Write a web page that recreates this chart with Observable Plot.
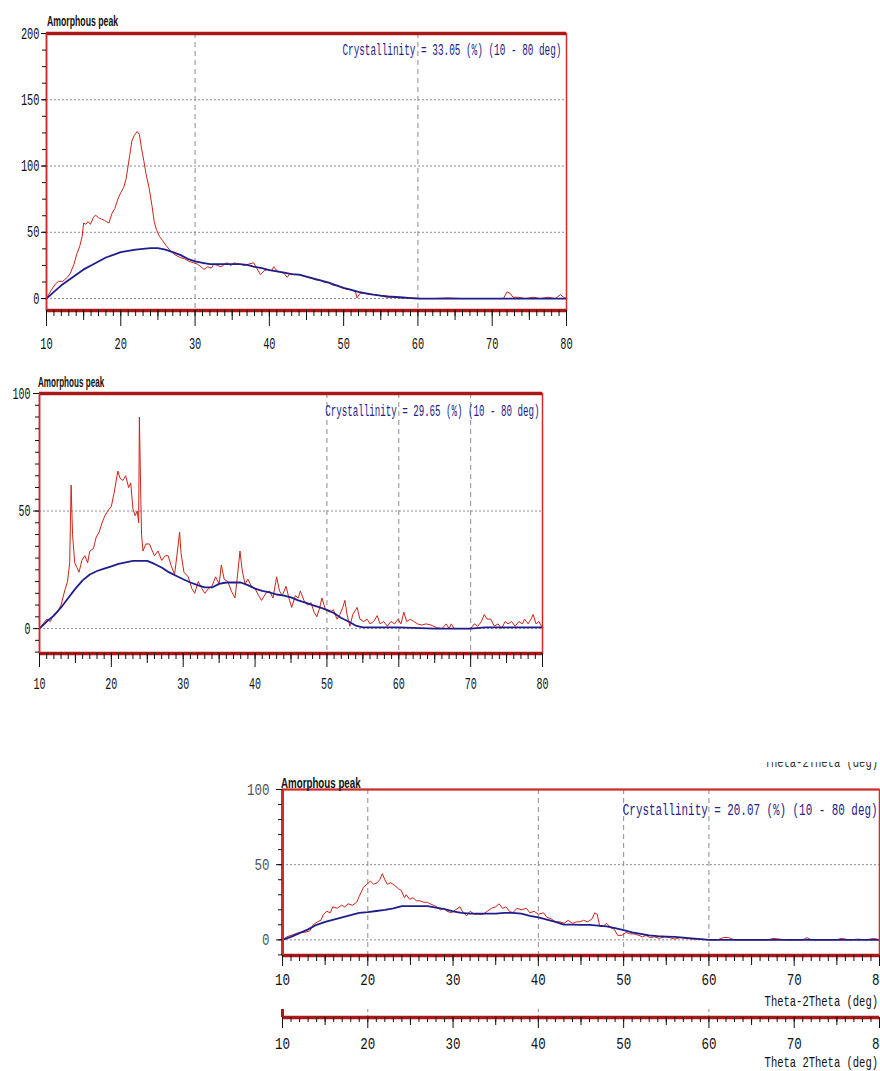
<!DOCTYPE html>
<html><head><meta charset="utf-8">
<script src="https://cdn.jsdelivr.net/npm/d3@7"></script>
<script src="https://cdn.jsdelivr.net/npm/@observablehq/plot@0.6"></script>
<style>
body{margin:0;background:#fff;}
#page{position:relative;width:880px;height:1071px;overflow:hidden;background:#fff;}
.lbl{position:absolute;white-space:nowrap;line-height:1;}
</style></head><body><div id="page"></div>
<script>
// ---------- data ----------
const xTickValues = [10, 20, 30, 40, 50, 60, 70, 80];
const xMidTicks = [15, 25, 35, 45, 55, 65, 75];
const xMinorTicks = d3.range(10, 81, 1);

const titleText = "Amorphous peak";
const axisTitle1 = "Theta-2Theta (deg)";
const axisTitle2 = "Theta 2Theta (deg)";
const crystallinity = [
  "Crystallinity = 33.05 (%) (10 - 80 deg)",
  "Crystallinity = 29.65 (%) (10 - 80 deg)",
  "Crystallinity = 20.07 (%) (10 - 80 deg)"
];

// Panel 1 (top)
const p1ObsAngle = [10.0,10.6,11.2,11.6,12.2,12.8,13.2,13.7,14.1,14.5,14.8,15.0,15.3,15.6,15.9,16.3,16.6,17.0,17.4,17.8,18.1,18.4,18.8,19.2,19.6,20.0,20.4,20.7,20.9,21.2,21.5,21.8,22.2,22.5,22.8,23.1,23.4,23.8,24.2,24.5,24.8,25.2,25.6,26.1,26.7,27.3,28.0,28.6,29.2,29.8,30.3,30.8,31.2,31.7,32.2,32.5,33.0,33.5,34.0,34.3,34.8,35.3,35.8,36.1,36.6,37.2,37.9,38.3,38.8,39.3,39.8,40.3,40.6,41.0,41.5,42.0,42.4,42.8,43.4,44.0,44.6,45.2,45.8,46.3,46.8,47.5,48.0,48.6,49.2,49.8,50.4,51.0,51.6,51.8,52.2,52.8,53.5,54.2,55.0,55.8,56.6,57.5,58.5,59.5,60.5,62.0,64.0,66.0,68.0,70.0,71.5,72.0,72.4,72.8,73.5,74.5,75.5,76.5,77.5,78.5,79.2,79.6,80.0];
const p1Observed = [0,6,11,13,13,16,19,26,34,40,47,57,56,58,56,61,63,61,60,59,58,57,64,68,75,80,84,90,97,108,119,123,126,124,113,104,94,84,70,58,52,47,44,40,36,33,31,30,28,27,26,24,22,24,23,26,25,24,26,27,25,27,26,26,25,26,27,23,18,21,22,21,24,21,20,19,16,19,18,18,17,16,15,14,14,12,12,10,10,8,7,7,5,0.5,4,4,3,3,2,1,1,0.5,0.5,0.5,0,0,0.5,0,0,0,0,5,4,1,1,0,1,0,1,0,3,1,0];
const p1AmoAngle = [10,11,12,13,14,15,16,17,18,19,20,21,22,23,24,25,26,27,28,29,30,31,32,33,34,35,36,37,38,39,40,41,42,43,44,45,46,47,48,49,50,51,52,53,54,55,56,57,58,59,60,80];
const p1Amorphous = [0,5,10,14,18,22,25,28,31,33,35,36,37,37.5,38,38,37,35,33,30,28,27,26,26,26,26,26,25.5,24,23,21.5,20.5,19.5,18.5,18,16.5,15,13.5,12,10,8,6.5,5,4,3,2.2,1.6,1.2,0.8,0.4,0,0];

// Panel 2 (middle)
const p2ObsAngle = [10.0,10.5,11.0,11.5,12.0,12.5,13.0,13.5,13.9,14.2,14.4,14.6,14.9,15.2,15.5,15.9,16.3,16.7,17.0,17.5,17.9,18.3,18.7,19.1,19.5,20.0,20.4,20.9,21.2,21.6,22.0,22.4,22.7,23.0,23.3,23.6,23.8,23.9,24.1,24.2,24.4,24.8,25.3,25.7,26.0,26.5,27.0,27.5,27.9,28.3,28.8,29.2,29.5,29.7,30.1,30.7,31.2,31.6,32.1,32.6,33.0,33.5,34.0,34.5,35.0,35.3,35.7,36.2,36.7,37.2,37.5,37.9,38.2,38.6,39.0,39.5,40.0,40.5,40.9,41.5,42.0,42.5,43.0,43.4,43.8,44.3,44.8,45.1,45.6,46.0,46.3,46.8,47.3,47.8,48.2,48.6,49.0,49.3,49.8,50.4,50.9,51.4,51.8,52.2,52.5,52.8,53.2,53.6,54.2,54.6,55.1,55.6,56.0,56.5,57.0,57.4,57.9,58.4,58.9,59.4,59.9,60.3,60.7,61.1,61.6,62.1,62.6,63.2,63.8,64.5,65.2,66.0,66.6,67.0,67.3,67.7,68.5,69.5,70.0,70.5,71.0,71.5,71.9,72.3,72.8,73.3,73.8,74.3,74.8,75.2,75.7,76.2,76.7,77.2,77.5,78.0,78.4,78.7,79.1,79.5,80.0];
const p2Observed = [0,2,4,3,6,7,10,16,20,28,61,40,28,26,24,29,31,28,33,34,39,41,45,48,50,52,58,67,64,63,65,60,62,51,48,50,45,90,55,40,33,36,36,33,31,33,29,31,31,27,23,33,41,32,24,22,17,15,20,17,15,17,18,22,19,27,21,20,16,13,21,33,25,19,21,18,17,14,12,15,16,13,22,16,14,18,12,9,14,13,16,12,10,11,7,5,9,13,8,7,8,4,6,9,12,6,1,6,9,4,3,4,2,3,5.5,2,3,1,3,2,4,2,7,3,4,3,2,1.5,2,1.5,0.5,0,2,0,2,0,0,0,0,2,1,3,6,4,4,1,2,0,3,2,3,1,3,2,4,2,4,6,2,3,0];
const p2AmoAngle = [10,11,12,13,14,15,16,17,18,19,20,21,22,23,24,25,26,27,28,29,30,31,32,33,34,35,36,37,38,39,40,41,42,43,44,45,46,47,48,49,50,51,52,53,54,55,60,65,70,72,80];
const p2Amorphous = [0,3,5.5,9,13,17,20.5,23,24.5,25.5,26.5,27.5,28.2,28.8,28.8,28.8,27.5,26,24,22.5,21,19.6,18.5,17.5,17.5,19,19.6,19.6,19.6,18.5,17,16,15.4,14.5,14,13.3,12,11,10,9,8,6.5,4.5,3,1.3,0.5,0.5,0,0,0.5,0.5];

// Panel 3 (bottom)
const p3ObsAngle = [10.0,10.5,11.0,11.5,12.0,12.6,13.2,13.6,14.1,14.5,14.8,15.2,15.6,15.9,16.4,16.9,17.3,17.7,18.2,18.7,19.0,19.5,19.9,20.3,20.7,21.1,21.4,21.7,22.0,22.3,22.7,23.2,23.6,23.9,24.3,24.5,24.9,25.3,25.7,26.1,26.6,27.0,27.3,27.7,28.1,28.5,28.9,29.3,29.8,30.3,30.8,31.2,31.6,32.0,32.5,33.0,33.5,34.0,34.5,35.0,35.4,35.8,36.2,36.6,37.0,37.5,38.0,38.6,39.0,39.5,40.0,40.6,41.0,41.5,42.0,42.5,43.0,43.5,44.0,44.5,44.9,45.3,45.8,46.3,46.6,46.9,47.2,47.6,48.0,48.5,48.9,49.3,49.8,50.3,50.7,51.2,51.8,52.2,52.6,53.1,53.6,54.2,54.8,55.4,56.0,56.6,57.3,58.0,59.0,60.0,61.0,61.7,62.3,63.0,64.0,67.0,67.5,68.3,69.0,71.0,71.5,72.0,75.0,75.5,76.5,77.5,78.5,79.3,80.0];
const p3Observed = [0,2,3,4,5,5,6,10,12,13,17,19,18,22,21,23,22,24,23,25,29,35,37,39,37,38,40,44,40,37,38,36,34,33,28,30,27,28,26,26,25,25,24,23,22,20,21,19,18,20,22,18,16,19,17,17,17,19,21,22,24,21,22,19,18,21,20,21,18,19,17,18,15,14,12,12,11,13,11,12,12,13,12,14,18,17,9,9,11,8,7,3,3,5,4,4,3,2,3,1.5,2,1,2,1.5,0.5,1.5,1,0.5,0.5,0,0,1.5,1.5,0,0,0,1,0.5,0,0,1.5,0,0,1,0,0.5,0,1,0];
const p3AmoAngle = [10,11,12,13,14,15,16,17,18,19,20,21,22,23,24,25,26,27,28,29,30,31,32,33,34,35,36,37,38,39,40,41,42,43,44,45,46,47,48,49,50,51,52,53,54,55,56,57,58,59,60,80];
const p3Amorphous = [0,2,4.5,7,10,12,13.5,15,16.5,18,18.5,19.2,20,21,22.5,22.5,22.5,22.5,21.5,20.5,19,18,17.5,17.5,17.5,17.5,18,18,17.5,16,15,13.5,12,10.2,10.2,10,10,9.5,9,7.8,6.5,5,4,3,2.5,2.2,2,1.5,1,0.5,0,0];

// ---------- drawing ----------
const page = document.getElementById("page");
const RED = "#cc2418", FRAME = "#cf2b2b", DARK = "#a81818", BLUE = "#1e1e8c", GRID = "#8c8c8c";
const MONO = "'Liberation Mono','DejaVu Sans Mono',monospace";
const SANS = "'Liberation Sans',Arial,sans-serif";

// narrow the tick labels (tall, condensed digits as in the reference)
function condense(svg, charW) {
  svg.querySelectorAll('g[aria-label$="tick label"] text').forEach(t => {
    const s = (t.textContent || "").trim();
    if (!s) return;
    t.setAttribute("textLength", (s.length * charW).toFixed(1));
    t.setAttribute("lengthAdjust", "spacingAndGlyphs");
  });
}

function place(svg, left, top) {
  svg.style.position = "absolute";
  svg.style.left = left + "px";
  svg.style.top = top + "px";
  svg.style.maxWidth = "none";
  page.appendChild(svg);
}

function panel(c) {
  const obs = c.obsAngle.map((a, i) => ({a, v: c.obs[i]}));
  const amo = c.amoAngle.map((a, i) => ({a, v: c.amo[i]}));
  const [y0, y1] = c.yDomain;
  const svg = Plot.plot({
    width: c.width, height: c.height,
    marginLeft: c.mL, marginRight: c.mR, marginTop: c.mT, marginBottom: c.mB,
    x: {domain: [10, 80]},
    y: {domain: c.yDomain},
    style: {fontFamily: MONO, fontSize: "16px", background: "transparent", color: "#111"},
    marks: [
      Plot.ruleY(c.hGrid, {stroke: GRID, strokeWidth: 1, strokeDasharray: "2,2"}),
      Plot.ruleX(c.vGrid, {stroke: GRID, strokeWidth: 1, strokeDasharray: "5,4"}),
      Plot.line(obs, {x: "a", y: "v", stroke: RED, strokeWidth: 1}),
      Plot.line(amo, {x: "a", y: "v", stroke: BLUE, strokeWidth: 1.8}),
      Plot.frame({stroke: FRAME, strokeWidth: 1.5}),
      Plot.ruleY([y1], {stroke: c.topColor, strokeWidth: c.topW}),
      Plot.ruleY([y0], {stroke: DARK, strokeWidth: 3.5}),
      Plot.ruleX([10], {stroke: FRAME, strokeWidth: c.leftW}),
      Plot.axisY({ticks: c.yMinor, tickSize: 4, tickFormat: () => "", label: null}),
      Plot.axisY({ticks: c.yMajor, tickSize: c.yTickSize, tickPadding: c.yPad, label: null, fill: c.yColor}),
      Plot.axisX({ticks: xMinorTicks, tickSize: 6, tickFormat: () => "", label: null}),
      Plot.axisX({ticks: xMidTicks, tickSize: 10, tickFormat: () => "", label: null}),
      Plot.axisX({ticks: xTickValues, tickSize: c.xTickSize, tickPadding: c.xPad, label: null, tickFormat: d => String(d)})
    ]
  });
  condense(svg, c.charW);
  place(svg, c.left, c.top);
}

function addText(str, o) {
  const d = document.createElement("div");
  d.className = "lbl";
  d.textContent = str;
  d.style.fontFamily = o.family;
  d.style.fontSize = o.size + "px";
  d.style.fontWeight = o.weight || "normal";
  d.style.color = o.color || "#111";
  d.style.top = (o.y - o.size / 2) + "px";
  if (o.anchor === "end") { d.style.right = (880 - o.x) + "px"; d.style.transformOrigin = "right center"; }
  else { d.style.left = o.x + "px"; d.style.transformOrigin = "left center"; }
  d.style.transform = `scaleX(${o.sx})`;
  (o.parent || page).appendChild(d);
  return d;
}

// Panel 1
panel({left: 0, top: 0, width: 600, height: 360, mL: 46, mR: 34, mT: 33, mB: 50,
  yDomain: [-9, 200], obsAngle: p1ObsAngle, obs: p1Observed, amoAngle: p1AmoAngle, amo: p1Amorphous,
  hGrid: [0, 50, 100, 150], vGrid: [30, 60], yMajor: [0, 50, 100, 150, 200], yMinor: d3.range(0, 201, 12.5),
  yTickSize: 5, yPad: 2, xTickSize: 16, xPad: 11, topW: 3.5, topColor: DARK, leftW: 1.5, charW: 6.2, yColor: "#111"});

// Panel 2
panel({left: 0, top: 370, width: 580, height: 330, mL: 39, mR: 38, mT: 23, mB: 47,
  yDomain: [-10.6, 100], obsAngle: p2ObsAngle, obs: p2Observed, amoAngle: p2AmoAngle, amo: p2Amorphous,
  hGrid: [0, 50], vGrid: [50, 60, 70], yMajor: [0, 50, 100], yMinor: d3.range(-10, 101, 5),
  yTickSize: 6, yPad: 3, xTickSize: 14, xPad: 10, topW: 3.5, topColor: DARK, leftW: 1.5, charW: 6.0, yColor: "#111"});

// Panel 3
panel({left: 230, top: 760, width: 650, height: 240, mL: 52, mR: 1, mT: 29, mB: 45,
  yDomain: [-10.4, 100], obsAngle: p3ObsAngle, obs: p3Observed, amoAngle: p3AmoAngle, amo: p3Amorphous,
  hGrid: [0, 50], vGrid: [20, 40, 50, 60], yMajor: [0, 50, 100], yMinor: d3.range(-10, 101, 10),
  yTickSize: 6, yPad: 7, xTickSize: 11, xPad: 7, topW: 2, topColor: FRAME, leftW: 3, charW: 7.5, yColor: "#555"});

// Strip axis below panel 3
{
  const strip = Plot.plot({
    width: 650, height: 50, marginLeft: 52, marginRight: 1, marginTop: 4, marginBottom: 38,
    x: {domain: [10, 80]}, y: {domain: [0, 1], axis: null},
    style: {fontFamily: MONO, fontSize: "16px", background: "transparent", color: "#111"},
    marks: [
      Plot.ruleX([20, 40, 60], {stroke: GRID, strokeDasharray: "3,3"}),
      Plot.ruleX([10], {stroke: DARK, strokeWidth: 3}),
      Plot.ruleY([0], {stroke: DARK, strokeWidth: 3.5}),
      Plot.axisX({ticks: xMinorTicks, tickSize: 5, tickFormat: () => "", label: null}),
      Plot.axisX({ticks: xMidTicks, tickSize: 8, tickFormat: () => "", label: null}),
      Plot.axisX({ticks: xTickValues, tickSize: 11, tickPadding: 9, label: null, tickFormat: d => String(d)})
    ]
  });
  condense(strip, 7.5);
  place(strip, 230, 1005);
}

// Titles
addText(titleText, {x: 47, y: 20, family: SANS, size: 15, weight: "bold", sx: 0.58});
addText(titleText, {x: 38, y: 381, family: SANS, size: 15, weight: "bold", sx: 0.54});
addText(titleText, {x: 281, y: 782, family: SANS, size: 15, weight: "bold", sx: 0.65});

// Crystallinity annotations
addText(crystallinity[0], {x: 561, y: 51, anchor: "end", family: MONO, size: 16, color: "#22228c", sx: 0.585});
addText(crystallinity[1], {x: 539, y: 412, anchor: "end", family: MONO, size: 16, color: "#22228c", sx: 0.572});
addText(crystallinity[2], {x: 877, y: 811, anchor: "end", family: MONO, size: 16, color: "#22228c", sx: 0.68});

// Axis titles
addText(axisTitle1, {x: 878, y: 1002, anchor: "end", family: MONO, size: 15, sx: 0.7});
addText(axisTitle2, {x: 878, y: 1063, anchor: "end", family: MONO, size: 15, sx: 0.7});

// Clipped axis title remnant at the top of panel 3
{
  const clip = document.createElement("div");
  clip.style.cssText = "position:absolute;left:700px;top:762px;width:180px;height:11px;overflow:hidden;";
  page.appendChild(clip);
  const d = document.createElement("div");
  d.className = "lbl";
  d.textContent = axisTitle1;
  d.style.cssText += `font-family:${MONO};font-size:15px;color:#333;right:2px;top:-6px;transform:scaleX(0.7);transform-origin:right center;`;
  clip.appendChild(d);
}
</script></body></html>
